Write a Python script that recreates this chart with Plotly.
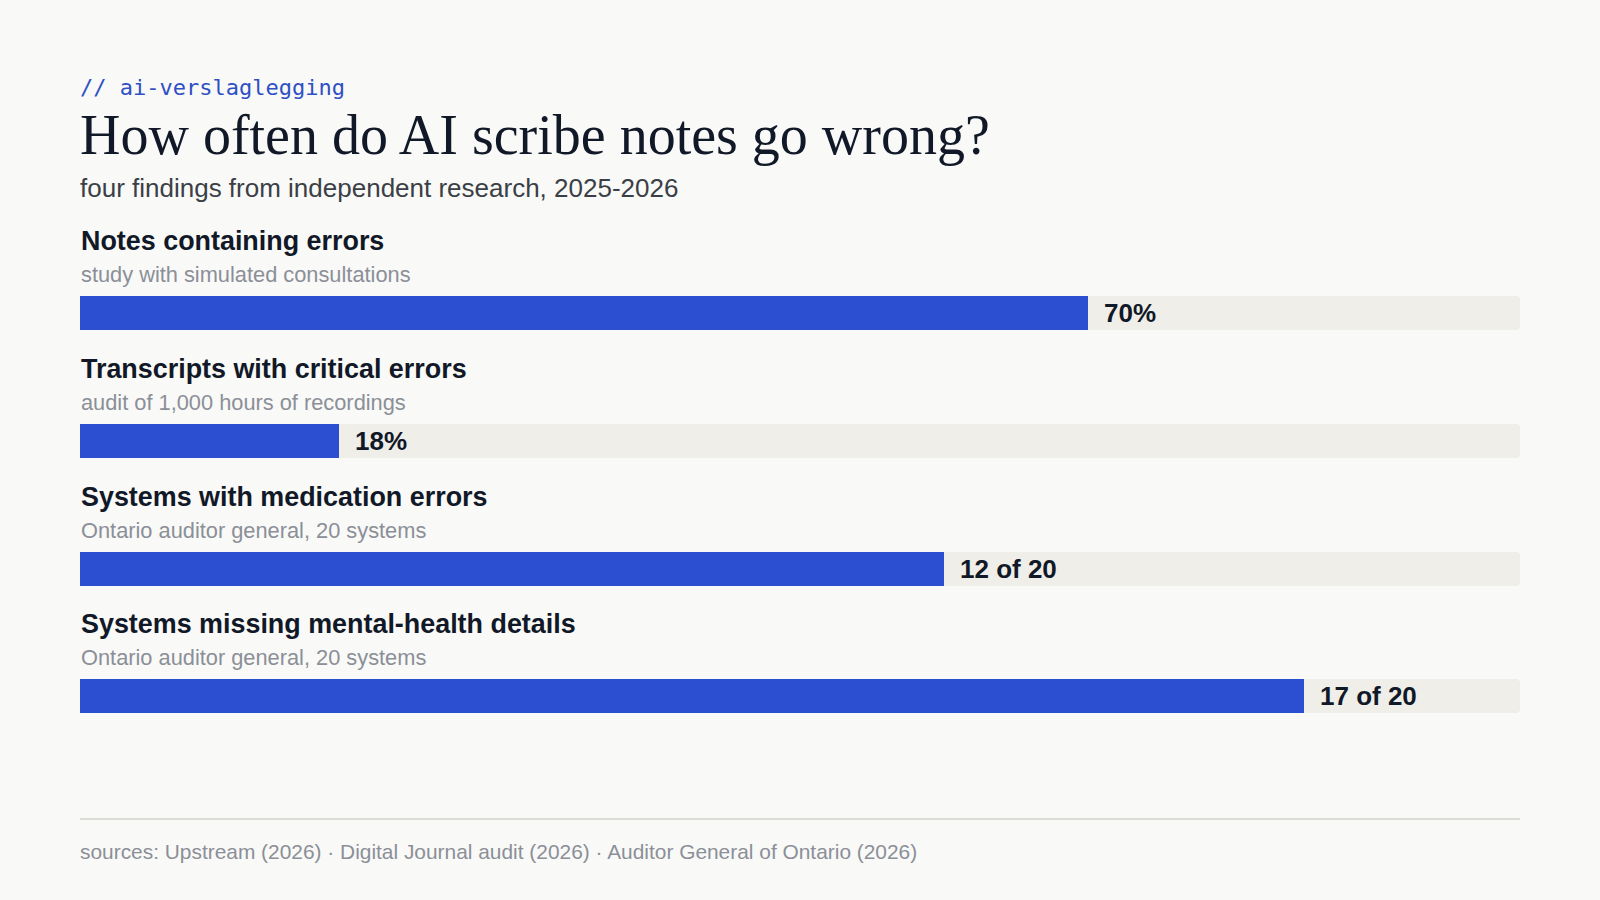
import plotly.graph_objects as go

# ---- data ----
categories = [
    "Notes containing errors",
    "Transcripts with critical errors",
    "Systems with medication errors",
    "Systems missing mental-health details",
]
notes = [
    "study with simulated consultations",
    "audit of 1,000 hours of recordings",
    "Ontario auditor general, 20 systems",
    "Ontario auditor general, 20 systems",
]
values = [70, 18, 12, 17]
totals = [100, 100, 20, 20]
value_labels = ["70%", "18%", "12 of 20", "17 of 20"]

eyebrow = "// ai-verslaglegging"
title = "How often do AI scribe notes go wrong?"
subtitle = "four findings from independent research, 2025-2026"
footer = "sources: Upstream (2026) · Digital Journal audit (2026) · Auditor General of Ontario (2026)"

# ---- style ----
BG = "#f9f9f7"
TRACK = "#efeee9"
BLUE = "#2c4ed1"
INK = "#111827"
GREY = "#8b8f97"
SANS = "Liberation Sans, Arial, sans-serif"
W, H = 1600, 900

share = [v / t for v, t in zip(values, totals)]

fig = go.Figure()
fig.add_bar(
    y=categories, x=[1] * len(categories), orientation="h",
    marker=dict(color=TRACK, cornerradius=4, line=dict(width=0)),
    width=0.266, hoverinfo="skip", showlegend=False,
)
fig.add_bar(
    y=categories, x=share, orientation="h",
    marker=dict(color=BLUE, cornerradius=4, line=dict(width=0)),
    width=0.266, showlegend=False,
)

ann = []
for cat, note, s, lab in zip(categories, notes, share, value_labels):
    ann.append(dict(x=0, y=cat, xref="x", yref="y", xanchor="left", yanchor="middle",
                    yshift=72, xshift=-1, showarrow=False, text=cat,
                    font=dict(family=SANS, size=26.9, color=INK, weight=700)))
    ann.append(dict(x=0, y=cat, xref="x", yref="y", xanchor="left", yanchor="middle",
                    yshift=38.5, xshift=-1, showarrow=False, text=note,
                    font=dict(family=SANS, size=21.8, color=GREY)))
    ann.append(dict(x=s, y=cat, xref="x", yref="y", xanchor="left", yanchor="middle",
                    xshift=14, showarrow=False, text=lab,
                    font=dict(family=SANS, size=26, color=INK, weight=700)))

def py(px):
    return 1 - px / H

ann += [
    dict(x=0.05, y=py(88), xref="paper", yref="paper", xanchor="left", yanchor="middle",
         xshift=-2, showarrow=False, text=eyebrow,
         font=dict(family="DejaVu Sans Mono, monospace", size=22, color="#2f4fc4")),
    dict(x=0.05, y=py(135), xref="paper", yref="paper", xanchor="left", yanchor="middle",
         xshift=-2, showarrow=False, text=title,
         font=dict(family="Liberation Serif, Georgia, serif", size=56, color=INK)),
    dict(x=0.05, y=py(188), xref="paper", yref="paper", xanchor="left", yanchor="middle",
         xshift=-2, showarrow=False, text=subtitle,
         font=dict(family=SANS, size=26, color="#3b3f46")),
    dict(x=0.05, y=py(851), xref="paper", yref="paper", xanchor="left", yanchor="middle",
         xshift=-2, showarrow=False, text=footer,
         font=dict(family=SANS, size=20.9, color=GREY)),
]

spacing = 127.83
first = 313
top = -first / spacing
bottom = (H - first) / spacing

fig.update_layout(
    width=W, height=H, paper_bgcolor=BG, plot_bgcolor=BG,
    margin=dict(l=0, r=0, t=0, b=0), barmode="overlay", bargap=0,
    xaxis=dict(domain=[0.05, 0.95], range=[0, 1], visible=False, fixedrange=True),
    yaxis=dict(domain=[0, 1], type="category", categoryorder="array",
               categoryarray=categories, range=[bottom, top], visible=False, fixedrange=True),
    annotations=ann,
    shapes=[dict(type="line", xref="paper", yref="paper", x0=0.05, x1=0.95,
                 y0=py(819), y1=py(819), line=dict(color="#dddbd5", width=2))],
)

fig.write_html("out.html", config={"displayModeBar": False})
